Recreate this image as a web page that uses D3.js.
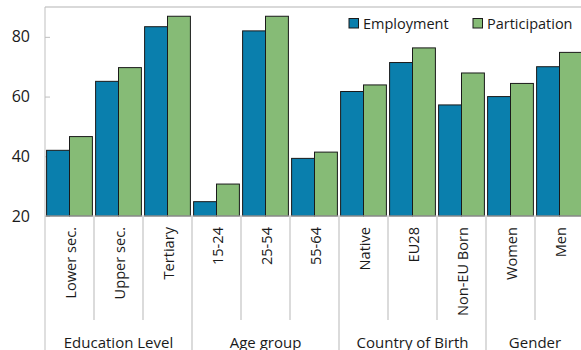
<!DOCTYPE html>
<html><head><meta charset="utf-8">
<script src="https://cdn.jsdelivr.net/npm/d3@7"></script>
<style>body{margin:0;background:#fff;}svg{display:block;}text{font-family:"Open Sans",sans-serif;fill:#1a1a1a;}</style>
</head><body><svg id="c" width="581" height="350"></svg>
<script>
const categories = ["Lower sec.","Upper sec.","Tertiary","15-24","25-54","55-64","Native","EU28","Non-EU Born","Women","Men"];
const groups = ["Education Level","Education Level","Education Level","Age group","Age group","Age group","Country of Birth","Country of Birth","Country of Birth","Gender","Gender"];
const employment = [42.0,65.1,83.4,24.8,82.0,39.3,61.7,71.4,57.2,60.0,70.0];
const participation = [46.6,69.7,86.9,30.7,86.9,41.4,63.9,76.3,67.9,64.4,74.8];
const seriesNames = ["Employment","Participation"];
const colors = ["#0a7fad","#86bb76"];
const yTicks = [20,40,60,80];

const svg = d3.select("#c");
const L = 45, R = 584, T = 7, B = 216;
const x = d3.scaleBand().domain(categories).range([L,R]).paddingInner(0).paddingOuter(0);
const x1 = d3.scaleBand().domain(seriesNames).range([1.6, x.bandwidth()-1.6]);
const y = d3.scaleLinear().domain([20,90]).range([B,T]);

// top border
svg.append("line").attr("x1",L).attr("x2",581).attr("y1",T).attr("y2",T).attr("stroke","#d9d9d9").attr("stroke-width",2);

// y axis
const ya = svg.append("g").attr("transform",`translate(${L},0)`).call(d3.axisLeft(y).tickValues(yTicks).tickSize(-5).tickPadding(15).tickFormat(d3.format("d")));
ya.select(".domain").remove();
ya.selectAll(".tick line").attr("stroke","#bfbfbf");
ya.selectAll(".tick text").style("font-size","16px").attr("fill","#1a1a1a");
svg.append("line").attr("x1",L).attr("x2",L).attr("y1",T).attr("y2",350).attr("stroke","#bfbfbf").attr("stroke-width",1);

// bars
const data = categories.map((c,i)=>({c, vals:[employment[i],participation[i]]}));
const g = svg.append("g");
data.forEach(d=>{
  d.vals.forEach((v,j)=>{
    g.append("rect").attr("x",x(d.c)+x1(seriesNames[j])).attr("width",x1.bandwidth())
      .attr("y",y(v)).attr("height",y(20)-y(v))
      .attr("fill",colors[j]).attr("stroke","#1a1a1a").attr("stroke-width",1);
  });
});
// x baseline
svg.append("line").attr("x1",L).attr("x2",581).attr("y1",B).attr("y2",B).attr("stroke","#bfbfbf");

// category separators and labels
categories.forEach((c,i)=>{
  if(i>0){
    const isGroup = groups[i]!==groups[i-1];
    svg.append("line").attr("x1",x(c)).attr("x2",x(c)).attr("y1",B).attr("y2",isGroup?350:320).attr("stroke","#c8c8c8").attr("stroke-width",1.3);
  }
  const cx = x(c)+x.bandwidth()/2;
  svg.append("text").attr("transform",`translate(${cx+6},227) rotate(-90)`).attr("text-anchor","end").style("font-size","14.6px").text(c);
});
// group labels
const gnames = Array.from(new Set(groups));
gnames.forEach(gn=>{
  const idx = groups.map((g,i)=>g===gn?i:-1).filter(i=>i>=0);
  const x0 = x(categories[idx[0]]), x2 = x(categories[idx[idx.length-1]])+x.bandwidth();
  svg.append("text").attr("x",(x0+x2)/2).attr("y",347.5).attr("text-anchor","middle").style("font-size","15px").text(gn);
});

// legend
const lg = svg.append("g");
const lx = [349,473];
seriesNames.forEach((s,j)=>{
  lg.append("rect").attr("x",lx[j]).attr("y",18.5).attr("width",9.5).attr("height",9.5).attr("fill",colors[j]).attr("stroke","#1a1a1a").attr("stroke-width",1);
  lg.append("text").attr("x",lx[j]+14).attr("y",28.5).style("font-size","14.5px").text(s);
});
</script></body></html>
